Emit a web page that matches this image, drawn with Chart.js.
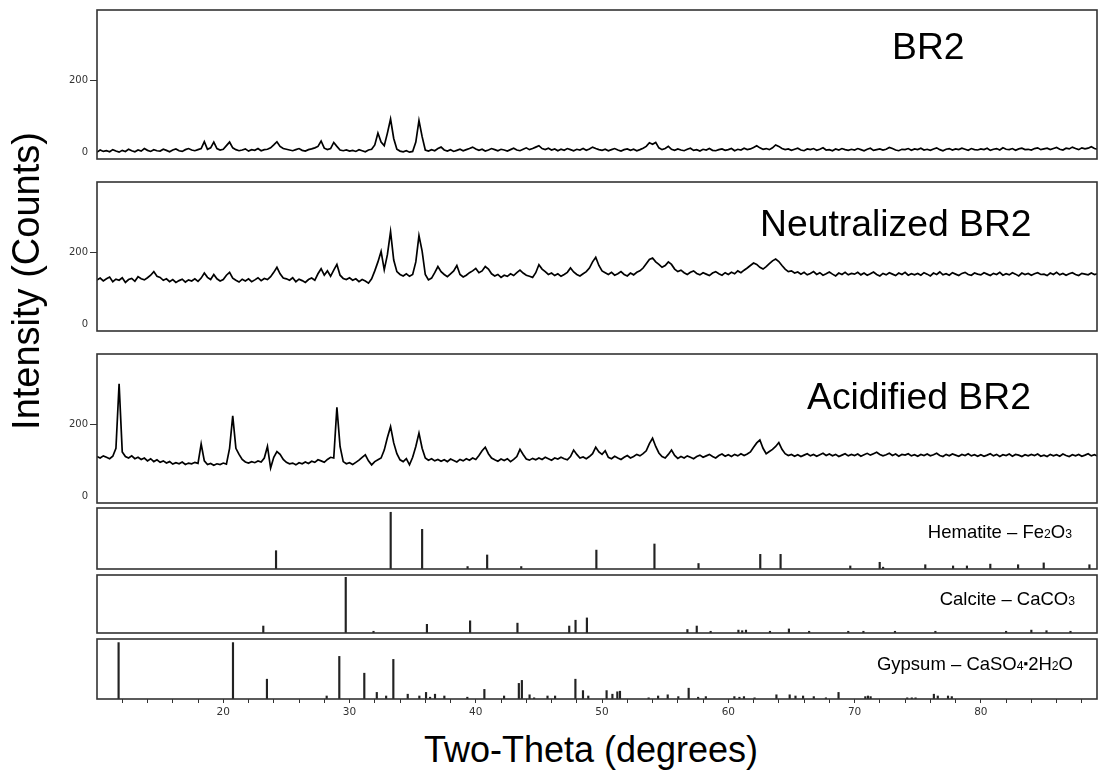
<!DOCTYPE html>
<html>
<head>
<meta charset="utf-8">
<script src="https://cdn.jsdelivr.net/npm/chart.js@4.4.1/dist/chart.umd.min.js"></script>
<style>
  body { margin: 0; background: #fff; width: 1099px; height: 776px; overflow: hidden; position: relative;
         font-family: "Liberation Sans", Arial, sans-serif; }
  canvas { position: absolute; left: 0; z-index: 1; }
  .lbl { position: absolute; line-height: 1; white-space: nowrap; color: #000; z-index: 2; }
  .sub { font-size: 0.66em; }
  .dot { font-size: 0.7em; position: relative; top: -0.12em; }
</style>
</head>
<body>
<div class="lbl" style="left:892px;top:28px;font-size:37.3px">BR2</div>
<div class="lbl" style="left:760px;top:205px;font-size:37.3px">Neutralized BR2</div>
<div class="lbl" style="left:807px;top:378px;font-size:37.3px">Acidified BR2</div>
<div class="lbl" style="right:27px;top:523px;font-size:18.5px">Hematite – Fe<span class="sub">2</span>O<span class="sub">3</span></div>
<div class="lbl" style="right:24px;top:590px;font-size:18.5px">Calcite – CaCO<span class="sub">3</span></div>
<div class="lbl" style="right:26px;top:655px;font-size:18.5px">Gypsum – CaSO<span class="sub">4</span><span class="dot">▪</span>2H<span class="sub">2</span>O</div>
<div class="lbl" style="left:391px;top:732px;width:400px;text-align:center;font-size:36px">Two-Theta (degrees)</div>
<div class="lbl" style="left:-174px;top:262px;width:400px;text-align:center;font-size:38px;transform:rotate(-90deg)">Intensity (Counts)</div>

<script>
// two-theta sampling of the measured patterns
const thetaStart = 10;
const thetaStep = 0.25;

// BR2, counts, one row per 5 degrees
const br2Counts = [
  2,8,4,6,3,9,5,2,7,4,10,6,3,8,5,12,7,4,9,6,
  5,10,7,3,8,11,6,4,9,12,8,6,9,12,31,10,14,30,12,8,
  10,20,30,14,9,6,8,11,5,9,7,12,6,9,10,14,22,31,18,12,
  10,8,6,9,12,7,5,9,11,14,18,33,13,9,12,29,18,8,6,8,
  5,7,4,9,6,3,8,10,22,55,30,20,55,94,40,10,5,3,6,2,
  4,30,90,45,8,5,9,6,12,16,8,5,9,4,7,10,6,9,12,16,
  11,7,10,5,8,12,9,6,10,8,5,9,13,8,6,10,14,9,12,16,
  20,12,9,13,8,11,6,10,7,12,9,6,10,8,12,7,11,16,12,9,
  7,10,6,9,12,8,5,9,11,7,10,6,9,13,18,28,24,29,14,9,
  12,18,10,7,11,8,6,10,13,7,9,5,10,8,12,7,6,9,11,7,
  9,12,6,10,8,13,9,11,15,20,14,10,12,9,14,22,18,12,9,11,
  7,10,13,8,6,11,9,12,7,10,14,8,9,6,11,8,12,9,7,10,
  8,12,9,6,10,13,7,9,11,8,10,15,12,8,6,10,9,12,7,11,
  9,13,8,10,7,11,14,9,6,10,12,8,11,9,13,10,7,12,9,8,
  11,9,13,7,10,12,8,14,10,9,12,7,11,13,9,10,8,12,14,9,
  11,13,9,12,15,10,8,13,11,16,12,9,14,11,13,17,12,10,15
];

const neutralizedCounts = [
  125,130,122,128,133,120,127,124,131,118,126,129,121,134,128,125,131,138,148,135,
  132,124,128,120,126,118,123,127,119,125,122,128,121,130,144,132,126,140,128,122,
  126,138,146,130,124,119,127,122,128,120,125,131,123,129,126,134,146,160,142,130,
  128,124,131,120,127,123,118,126,130,124,142,156,138,150,135,152,168,138,129,126,
  131,124,128,120,126,122,116,128,150,175,204,153,195,259,180,148,140,136,142,135,
  140,175,248,205,140,125,130,145,162,148,140,134,142,150,165,140,133,138,145,150,
  157,145,150,162,155,142,136,140,132,138,135,142,137,145,152,144,138,135,132,145,
  167,155,148,140,144,137,142,135,140,146,158,147,140,136,142,148,158,175,188,165,
  150,145,140,146,138,142,148,140,136,144,139,146,150,158,170,182,186,175,168,160,
  165,175,168,155,148,152,145,140,146,150,143,139,145,141,137,144,148,142,138,145,
  140,146,142,150,145,152,158,165,172,168,160,155,162,170,178,183,176,165,155,148,
  150,144,147,141,146,139,143,148,140,145,138,142,147,141,136,144,140,146,139,143,
  141,146,139,144,138,142,147,140,136,143,139,145,141,137,144,140,146,138,142,139,
  143,138,145,141,136,144,140,147,139,142,138,145,141,137,143,146,140,138,144,141,
  139,145,141,137,143,140,146,138,142,139,145,141,136,144,140,143,138,142,145,140,
  141,137,144,140,146,139,143,138,142,145,140,137,143,141,139,144,140,142,139
];

const acidifiedCounts = [
  112,108,114,110,106,113,135,314,125,112,108,114,106,110,104,108,100,106,98,103,
  96,100,94,98,91,95,92,97,90,94,92,96,93,147,100,90,93,88,92,90,
  94,91,135,225,135,118,104,97,94,98,95,100,97,108,140,80,110,126,118,104,
  96,92,94,89,95,92,97,93,99,96,103,100,96,104,110,108,249,140,98,92,
  95,90,96,102,110,117,100,89,98,103,108,130,165,195,150,120,103,98,106,89,
  110,140,177,135,108,102,106,100,104,99,103,98,105,101,97,104,100,106,102,108,
  104,115,128,138,120,108,103,99,105,101,106,98,104,112,132,118,105,102,107,103,
  108,104,110,106,102,108,105,110,106,103,112,130,118,108,111,106,112,120,138,125,
  118,128,110,106,113,108,104,110,115,108,112,118,114,120,128,148,163,140,122,112,
  108,118,130,115,107,112,108,114,110,106,112,116,110,114,118,112,108,115,119,113,
  117,112,118,114,120,115,119,125,138,150,158,135,120,126,132,140,151,132,120,115,
  118,113,117,112,116,120,114,118,113,117,121,115,119,114,118,112,116,120,114,118,
  115,119,113,117,121,116,120,124,118,114,117,121,115,119,113,118,116,120,114,117,
  113,118,115,119,114,117,121,115,112,118,114,119,116,113,118,115,120,114,117,113,
  117,113,116,120,114,118,112,117,115,119,113,118,116,112,117,114,118,115,119,113,
  116,112,118,114,117,113,119,115,112,117,114,118,113,116,120,114,117,113,116
];

// reference sticks: two-theta and relative intensity (%)
const hematiteTheta = [24.18, 33.26, 35.75, 39.35, 40.9, 43.6, 49.55, 54.15, 57.64, 62.53, 64.14,
  69.66, 71.99, 72.26, 75.6, 77.8, 78.9, 80.75, 82.95, 84.98, 88.6];
const hematiteRel = [30, 93, 65, 4, 23, 4, 31, 41, 9, 24, 24, 5, 11, 3, 7, 5, 5, 8, 7, 10, 7];

const calciteTheta = [23.17, 29.7, 31.9, 36.13, 39.55, 43.3, 47.4, 47.9, 48.8, 56.76, 57.5, 58.6,
  60.8, 61.1, 61.4, 63.3, 64.8, 66.4, 69.5, 70.7, 73.2, 76.4, 82.0, 84.0, 85.2, 87.1];
const calciteRel = [12, 96, 3, 15, 21, 17, 12, 22, 26, 6, 12, 3, 5, 4, 5, 3, 7, 3, 3, 3, 3, 3, 3, 5, 4, 3];

const gypsumTheta = [11.71, 20.77, 23.46, 28.19, 29.19, 31.17, 32.16, 32.9, 33.47, 34.61, 35.53, 36.06,
  36.38, 36.77, 37.51, 39.33, 40.68, 42.24, 43.41, 43.65, 44.26, 44.62, 45.68, 46.28, 47.89, 48.49,
  48.91, 50.36, 50.82, 51.21, 51.42, 53.69, 54.44, 55.2, 56.04, 56.86, 57.61, 58.22, 60.48, 60.88,
  61.24, 62.08, 63.81, 64.86, 65.32, 65.92, 66.77, 67.73, 68.73, 70.85, 71.06, 71.27, 74.17, 74.53,
  74.83, 76.28, 76.59, 77.4, 77.7];
const gypsumRel = [94, 94, 33, 5, 71, 43, 11, 5, 66, 8, 5, 11, 3, 8, 5, 3, 16, 5, 26, 31,
  7, 2, 5, 5, 33, 14, 5, 14, 8, 12, 13, 2, 5, 7, 4, 18, 3, 4, 4, 3,
  4, 2, 7, 7, 5, 5, 4, 2, 11, 4, 5, 4, 2, 2, 2, 8, 5, 5, 4];

// axes
const xMin = 10;
const xMax = 89.2;
const xTickValues = [12, 14, 16, 18, 20, 22, 24, 26, 28, 30, 32, 34, 36, 38, 40, 42, 44, 46, 48, 50,
  52, 54, 56, 58, 60, 62, 64, 66, 68, 70, 72, 74, 76, 78, 80, 82, 84, 86, 88];
const xTickLabels = [20, 30, 40, 50, 60, 70, 80];
const yTickValues = [0, 200];
const countMin = -17;
const countMax = 397;

const toPoints = (counts) => counts.map((c, i) => ({ x: thetaStart + i * thetaStep, y: c }));
const toSticks = (theta, rel) => theta.map((t, i) => ({ x: t, y: rel[i] }));

const framePlugin = {
  id: 'frame',
  afterDraw(chart) {
    const { ctx, chartArea: a } = chart;
    ctx.save();
    ctx.strokeStyle = '#333';
    ctx.lineWidth = 1.6;
    ctx.strokeRect(a.left, a.top, a.right - a.left, a.bottom - a.top);
    ctx.restore();
  }
};

const tickFont = { family: 'DejaVu Sans', size: 10 };

const makeY = (min, max, showTicks) => ({
  min: min,
  max: max,
  afterFit: (s) => { s.width = 97; s.paddingTop = 0; s.paddingBottom = 0; },
  afterBuildTicks: (s) => { s.ticks = showTicks ? yTickValues.map((v) => ({ value: v })) : []; },
  grid: {
    drawOnChartArea: false,
    drawTicks: showTicks,
    tickLength: 7,
    tickWidth: 1,
    tickColor: (c) => (c.tick && c.tick.value === 200 ? '#333' : 'rgba(0,0,0,0)')
  },
  border: { display: false },
  ticks: { display: showTicks, padding: 2, color: '#333', font: tickFont }
});

const makeX = (show) => ({
  type: 'linear',
  min: xMin,
  max: xMax,
  offset: false,
  display: show,
  afterFit: (s) => {
    s.height = show ? 28 : 0;
    s.paddingLeft = 0;
    s.paddingRight = 0;
  },
  afterBuildTicks: (s) => { s.ticks = xTickValues.map((v) => ({ value: v })); },
  grid: { offset: false, drawOnChartArea: false, tickLength: 4, tickColor: '#333' },
  border: { display: false },
  ticks: {
    autoSkip: false,
    maxRotation: 0,
    padding: 3,
    color: '#333',
    font: { family: 'DejaVu Sans', size: 10.5 },
    callback: (v) => (xTickLabels.includes(v) ? String(v) : '')
  }
});

const panels = [
  { top: 10, h: 149, kind: 'line', data: toPoints(br2Counts) },
  { top: 182, h: 149, kind: 'line', data: toPoints(neutralizedCounts) },
  { top: 354, h: 149, kind: 'line', data: toPoints(acidifiedCounts) },
  { top: 508, h: 61, kind: 'bar', data: toSticks(hematiteTheta, hematiteRel) },
  { top: 575, h: 58, kind: 'bar', data: toSticks(calciteTheta, calciteRel) },
  { top: 639, h: 60, kind: 'bar', data: toSticks(gypsumTheta, gypsumRel), axis: true }
];

panels.forEach((p) => {
  const canvas = document.createElement('canvas');
  const bottomSpace = p.axis ? 28 : 1;
  canvas.width = 1099;
  canvas.height = p.h + 1 + bottomSpace;
  canvas.style.top = (p.top - 1) + 'px';
  document.body.appendChild(canvas);

  const isLine = p.kind === 'line';
  const dataset = isLine
    ? { data: p.data, borderColor: '#000', borderWidth: 1.7, pointRadius: 0, tension: 0, fill: false }
    : { data: p.data, backgroundColor: '#222', barThickness: 1.5, borderWidth: 0 };

  new Chart(canvas, {
    type: p.kind,
    data: { datasets: [dataset] },
    options: {
      responsive: false,
      animation: false,
      events: [],
      layout: { padding: { left: 0, right: 2, top: 1, bottom: p.axis ? 0 : 1 } },
      plugins: { legend: { display: false }, tooltip: { enabled: false } },
      scales: {
        x: makeX(!!p.axis),
        y: isLine ? makeY(countMin, countMax, true) : makeY(0, 100, false)
      }
    },
    plugins: [framePlugin]
  });
});
</script>
</body>
</html>
